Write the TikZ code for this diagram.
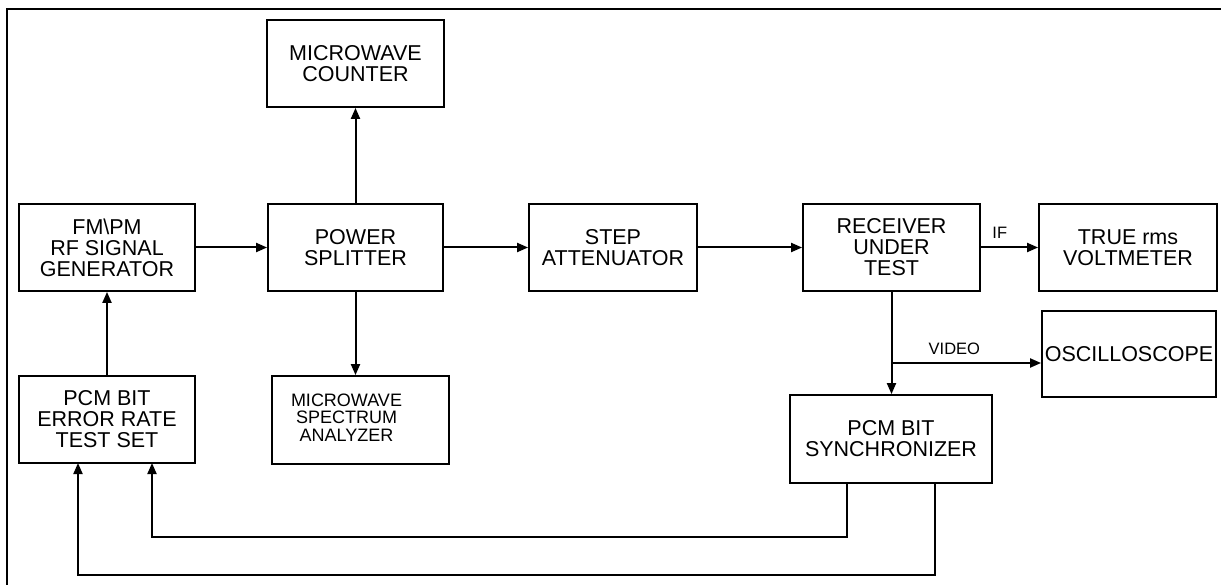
\documentclass[tikz,border=0pt]{standalone}
\usepackage{fontspec}
\setmainfont{Liberation Sans}
\usetikzlibrary{arrows.meta}
\begin{document}
\begin{tikzpicture}[x=1pt,y=-1pt,
  blk/.style={draw,line width=1.8pt,align=center,inner sep=0pt,
    font=\fontsize{21.5}{21}\selectfont},
  arr/.style={line width=2pt,-{Triangle[length=11pt,width=9pt]}},
  lbl/.style={font=\fontsize{16.5}{17}\selectfont,inner sep=0pt}]
\useasboundingbox (0,0) rectangle (1221,585);
\draw[line width=1.8pt] (7,585) -- (7,9) -- (1221,9);
% blocks
\node[blk,minimum width=176pt,minimum height=87pt] (fm) at (107,247.5) {FM\textbackslash PM\\RF SIGNAL\\GENERATOR};
\node[blk,minimum width=175pt,minimum height=87pt] (ps) at (355.5,247.5) {POWER\\SPLITTER};
\node[blk,minimum width=177pt,minimum height=87pt] (mc) at (355.5,63.5) {MICROWAVE\\COUNTER};
\node[blk,minimum width=168pt,minimum height=87pt] (st) at (613,247.5) {STEP\\ATTENUATOR};
\node[blk,minimum width=177pt,minimum height=87pt] (rx) at (891.5,247.5) {RECEIVER\\UNDER\\TEST};
\node[blk,minimum width=178pt,minimum height=87pt] (tv) at (1128,247.5) {TRUE rms\\VOLTMETER};
\node[blk,minimum width=176pt,minimum height=87pt] (er) at (107,419.5) {PCM BIT\\ERROR RATE\\TEST SET};
\node[blk,minimum width=177pt,minimum height=88pt,font=\fontsize{18}{17}\selectfont] (sa) at (360.5,420) {\begin{tabular}{@{}c@{\hspace{28pt}}}MICROWAVE\\SPECTRUM\\ANALYZER\end{tabular}};
\node[blk,minimum width=174pt,minimum height=86pt] (os) at (1129,354) {OSCILLOSCOPE};
\node[blk,minimum width=202pt,minimum height=88pt] (sy) at (891,439) {PCM BIT\\SYNCHRONIZER};
% connectors
\draw[arr] (fm.east) -- (ps.west);
\draw[arr] (ps.north) -- (mc.south);
\draw[arr] (ps.south) -- (ps.south |- sa.north);
\draw[arr] (ps.east) -- (st.west);
\draw[arr] (st.east) -- (rx.west);
\draw[arr] (rx.east) -- node[lbl,above=8pt,pos=0.33] (iflbl) {IF} (tv.west);
\draw[arr] (rx.south) -- (rx.south |- sy.north);
\coordinate (v) at (891.5,363);
\draw[arr] (v) -- node[lbl,above=7pt,pos=0.42] (vidlbl) {VIDEO} (v -| os.west);
\draw[arr] (er.north) -- (fm.south);
\coordinate (a1) at (847,483);
\coordinate (a2) at (935,483);
\coordinate (e1) at (152,463);
\coordinate (e2) at (78,463);
\draw[arr] (a1) -- ++(0,54) -| (e1);
\draw[arr] (a2) -- ++(0,92) -| (e2);
\end{tikzpicture}
\end{document}
